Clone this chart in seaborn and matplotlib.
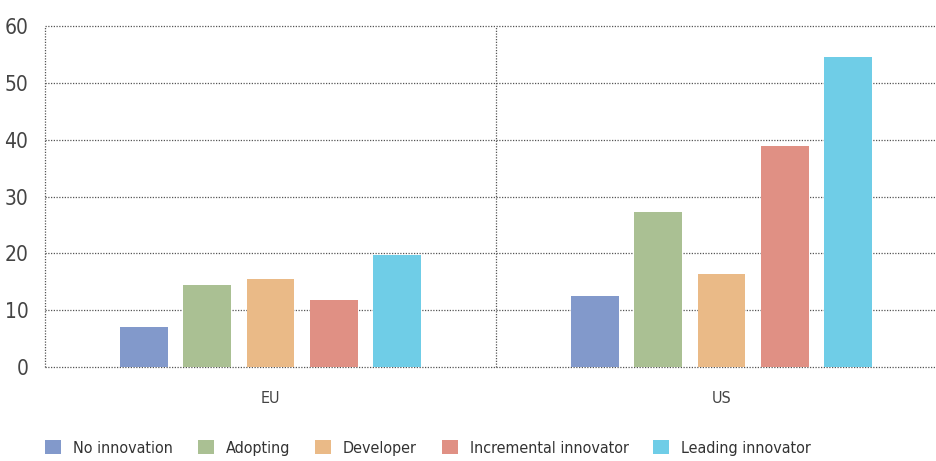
import pandas as pd
import matplotlib.pyplot as plt
import seaborn as sns
from matplotlib.patches import Patch
from matplotlib import font_manager

regions = ['EU', 'US']
categories = ['No innovation', 'Adopting', 'Developer', 'Incremental innovator', 'Leading innovator']
eu_values = [7.0, 14.5, 15.5, 11.8, 19.7]
us_values = [12.5, 27.3, 16.4, 38.8, 54.6]
colors = ['#8299cb', '#aac093', '#eaba87', '#e09084', '#6fcde7']

df = pd.DataFrame({
    'region': ['EU'] * 5 + ['US'] * 5,
    'category': categories * 2,
    'value': eu_values + us_values,
})

sns.set_style('white')
names = {f.name for f in font_manager.fontManager.ttflist}
if 'Liberation Sans Narrow' in names:
    plt.rcParams['font.family'] = ['Liberation Sans Narrow', 'DejaVu Sans']
else:
    plt.rcParams['font.family'] = ['DejaVu Sans']
    plt.rcParams['font.stretch'] = 'condensed'

fig = plt.figure(figsize=(9.36, 4.61), dpi=100)
ax = fig.add_axes([45 / 936, 1 - 367 / 461, 1 - 45 / 936, 341 / 461])

sns.barplot(data=df, x='region', y='value', hue='category', order=regions,
            hue_order=categories, palette=colors, width=0.7, gap=0.24,
            saturation=1, linewidth=0, legend=False, ax=ax)

ax.set_ylim(0, 60)
ax.set_xlim(-0.5, -0.5 + 891 / 451)
ax.set_yticks(range(0, 61, 10))
ax.set_xticks([-0.5, 0.5], minor=True)
ax.grid(axis='y', which='major', linestyle=(0, (1, 1.2)), color='#555555', linewidth=0.9)
ax.grid(axis='x', which='minor', linestyle=(0, (1, 1.2)), color='#555555', linewidth=0.9)
gl = [t.gridline for t in ax.yaxis.get_major_ticks()] + [t.gridline for t in ax.xaxis.get_minor_ticks()]
for line in gl:
    line.set_clip_on(False)
ax.set_axisbelow(True)
for s in ax.spines.values():
    s.set_visible(False)
ax.tick_params(axis='y', length=0, pad=12, labelsize=15, labelcolor='#444444')
ax.tick_params(axis='x', which='both', length=0, pad=17, labelsize=11.5, labelcolor='#444444')
ax.set_xlabel('')
ax.set_ylabel('')

handles = [Patch(facecolor=c, edgecolor='none') for c in colors]
fig.legend(handles, categories, loc='center left', bbox_to_anchor=(31 / 936, 1 - 448 / 461),
           ncol=5, frameon=False, fontsize=11.5, handlelength=1.0, handleheight=1.0,
           handletextpad=0.75, columnspacing=1.55, labelcolor='#333333')

fig.savefig('out.png', dpi=100)
